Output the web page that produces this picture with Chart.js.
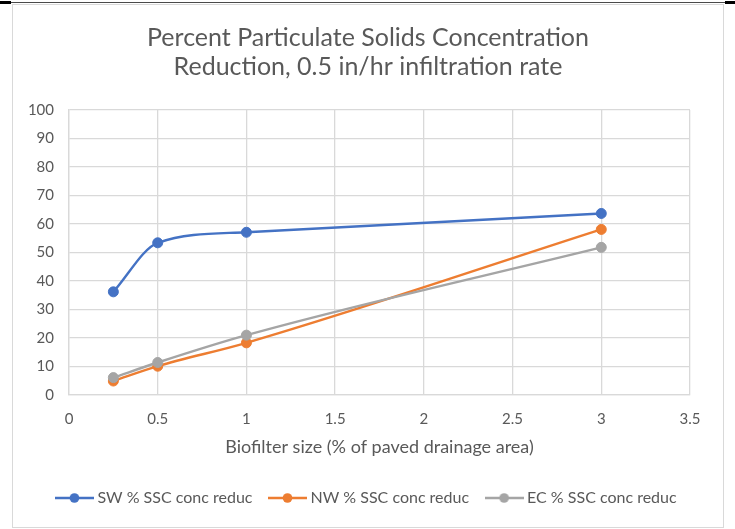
<!DOCTYPE html>
<html>
<head>
<meta charset="utf-8">
<title>Percent Particulate Solids Concentration Reduction</title>
<script src="https://cdn.jsdelivr.net/npm/chart.js@4.4.1/dist/chart.umd.min.js"></script>
<style>
  html, body { margin: 0; padding: 0; background: #ffffff; }
  #wrap { position: relative; width: 735px; height: 529px; overflow: hidden; background: #ffffff; }
  #chart { position: absolute; left: 0; top: 0; }
  .frame { position: absolute; left: 12px; top: 4px; width: 710px; height: 522px;
           border: 1px solid #d9d9d9; pointer-events: none; }
  .rule { position: absolute; top: 2px; left: 11px; width: 714px; height: 1px; background: #4a4a4a; }
  .cap { position: absolute; top: 1px; height: 3px; background: #000000; }
</style>
</head>
<body>
<div id="wrap">
  <canvas id="chart" width="735" height="529"></canvas>
  <div class="frame"></div>
  <div class="rule"></div>
  <div class="cap" style="left:0;width:11px"></div>
  <div class="cap" style="left:725px;width:10px"></div>
</div>
<script>
// Biofilter size (% of paved drainage area)
const biofilterSizes = [0.25, 0.5, 1, 3];

// Percent SSC concentration reduction per site
const swReduction = [36.2, 53.4, 57.1, 63.7];
const nwReduction = [4.9, 10.1, 18.3, 58.1];
const ecReduction = [6.1, 11.4, 21.0, 51.8];

const seriesNames = ['SW % SSC conc reduc', 'NW % SSC conc reduc', 'EC % SSC conc reduc'];
const seriesColors = ['#4472C4', '#ED7D31', '#A5A5A5'];

const titleLines = ['Percent Particulate Solids Concentration', 'Reduction, 0.5 in/hr infiltration rate'];
const xAxisTitle = 'Biofilter size (% of paved drainage area)';

const xTicks = { min: 0, max: 3.5, step: 0.5 };
const yTicks = { min: 0, max: 100, step: 10 };

const TEXT = '#595959';
const GRID = '#d9d9d9';
const FONT = 'Lato';

function toPoints(values) {
  return biofilterSizes.map((x, i) => ({ x: x, y: values[i] }));
}

// Legend swatch: a short line with a round marker in the middle
function legendSwatch(color) {
  const c = document.createElement('canvas');
  c.width = 39; c.height = 12;
  const g = c.getContext('2d');
  g.strokeStyle = color;
  g.lineWidth = 2.5;
  g.beginPath(); g.moveTo(0, 6); g.lineTo(39, 6); g.stroke();
  g.fillStyle = color;
  g.beginPath(); g.arc(19.5, 6, 4.8, 0, Math.PI * 2); g.fill();
  return c;
}
const swatches = seriesColors.map(legendSwatch);

const allSeries = [swReduction, nwReduction, ecReduction];
const datasets = allSeries.map((vals, i) => ({
  label: seriesNames[i],
  data: toPoints(vals),
  borderColor: seriesColors[i],
  backgroundColor: seriesColors[i],
  pointBackgroundColor: seriesColors[i],
  pointBorderColor: seriesColors[i],
  borderWidth: 2.4,
  pointRadius: 5,
  pointBorderWidth: 1,
  cubicInterpolationMode: 'monotone',
  order: allSeries.length - 1 - i,   // later series drawn on top
  yAxisID: 'y'
}));

function draw() {
  new Chart(document.getElementById('chart'), {
    type: 'line',
    data: { datasets: datasets },
    options: {
      responsive: false,
      animation: false,
      devicePixelRatio: 1,
      layout: { padding: { left: 13, right: 12, top: 0, bottom: 13 } },
      plugins: {
        tooltip: { enabled: false },
        title: {
          display: true,
          text: titleLines,
          color: TEXT,
          font: { family: FONT, size: 25, weight: 'normal', lineHeight: 29 / 25 },
          padding: { top: 23, bottom: 29 }
        },
        legend: {
          display: true,
          position: 'bottom',
          labels: {
            color: TEXT,
            font: { family: FONT, size: 16 },
            usePointStyle: true,
            pointStyleWidth: 30,
            padding: 20,
            sort: (a, b) => a.datasetIndex - b.datasetIndex,
            generateLabels: (chart) => {
              const items = Chart.defaults.plugins.legend.labels.generateLabels(chart);
              items.forEach(it => { it.pointStyle = swatches[it.datasetIndex]; });
              return items;
            }
          }
        }
      },
      scales: {
        x: {
          type: 'linear',
          position: 'bottom',
          min: xTicks.min,
          max: xTicks.max,
          ticks: {
            stepSize: xTicks.step,
            color: TEXT,
            padding: 15,
            font: { family: FONT, size: 15 },
            callback: v => String(v)
          },
          grid: { color: GRID, lineWidth: 1.3, drawTicks: false },
          border: { display: true, color: GRID, width: 1.3 },
          title: {
            display: true,
            text: xAxisTitle,
            color: TEXT,
            font: { family: FONT, size: 18 },
            padding: { top: 0, bottom: 12 }
          },
          afterFit: s => { s.height = 75; }
        },
        y: {
          type: 'linear',
          position: 'left',
          min: yTicks.min,
          max: yTicks.max,
          ticks: {
            stepSize: yTicks.step,
            color: TEXT,
            padding: 15,
            font: { family: FONT, size: 15 }
          },
          grid: { color: GRID, lineWidth: 1.3, drawTicks: false },
          border: { display: true, color: GRID, width: 1.3 },
          afterFit: s => { s.width = 56; }
        },
        // empty right-hand margin so the plot ends short of the frame
        yRight: {
          type: 'linear',
          position: 'right',
          display: true,
          min: yTicks.min,
          max: yTicks.max,
          ticks: { display: false },
          grid: { display: false, drawTicks: false },
          border: { display: false },
          afterFit: s => { s.width = 33; }
        }
      }
    }
  });
}

if (document.fonts && document.fonts.load) {
  Promise.all([
    document.fonts.load('15px Lato'),
    document.fonts.load('16px Lato'),
    document.fonts.load('18px Lato'),
    document.fonts.load('25px Lato')
  ]).then(draw, draw);
} else {
  draw();
}
</script>
</body>
</html>
